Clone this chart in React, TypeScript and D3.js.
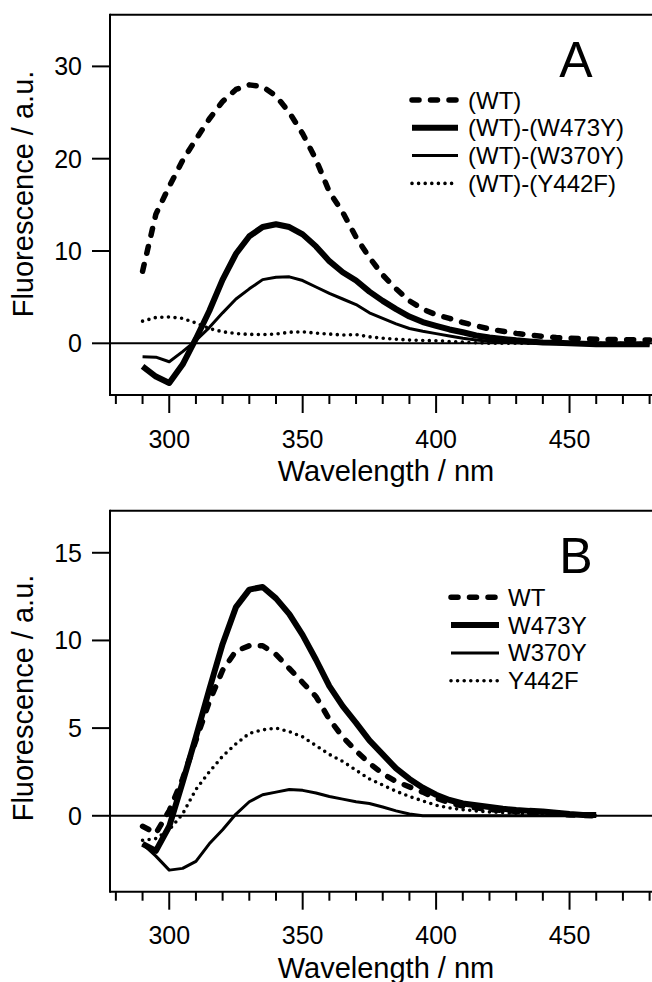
import React from "react";
import * as d3 from "d3";

const WL_A = [290,295,300,305,310,315,320,325,330,335,340,345,350,355,360,365,370,375,380,385,390,395,400,405,410,415,420,425,430,435,440,445,450,455,460,465,470,475,480];
const A_WT = [7.8,14.0,17.0,19.8,22.1,24.3,26.2,27.5,28.0,27.8,26.8,25.0,22.7,19.9,16.4,14.2,11.5,9.3,7.4,5.9,4.6,3.7,3.1,2.7,2.25,1.9,1.55,1.3,1.08,0.9,0.75,0.62,0.55,0.5,0.45,0.42,0.4,0.38,0.36];
const A_W473Y = [-2.5,-3.6,-4.3,-2.3,0.5,3.5,6.9,9.7,11.6,12.6,12.9,12.6,11.8,10.5,8.9,7.7,6.8,5.6,4.6,3.7,2.9,2.3,1.9,1.5,1.2,0.85,0.62,0.48,0.32,0.2,0.1,0.05,0.0,-0.05,-0.1,-0.1,-0.1,-0.1,-0.1];
const A_W370Y = [-1.45,-1.5,-2.0,-0.9,0.3,1.7,3.3,4.8,5.9,6.9,7.15,7.2,6.8,6.1,5.4,4.8,4.2,3.3,2.7,2.1,1.6,1.3,1.05,0.8,0.55,0.35,0.22,0.12,0.05,0.0,0.0,-0.05,-0.1,-0.1,-0.1,-0.1,-0.1,-0.1,-0.1];
const A_Y442F = [2.4,2.8,2.85,2.7,2.2,1.6,1.25,1.05,0.97,0.95,1.0,1.2,1.25,1.1,1.0,0.9,0.95,0.7,0.55,0.45,0.35,0.3,0.28,0.2,0.12,0.05,0.0,0.0,0.0,0.0,0.0,0.0,0.0,0.0,0.0,0.0,0.0,0.0,0.0];

const WL_B = [290,295,300,305,310,315,320,325,330,335,340,345,350,355,360,365,370,375,380,385,390,395,400,405,410,415,420,425,430,435,440,445,450,455,460];
const B_WT = [-0.6,-1.0,0.3,2.1,4.3,6.5,8.3,9.4,9.7,9.7,9.2,8.4,7.6,6.8,5.5,4.5,3.7,3.0,2.4,1.95,1.65,1.35,1.0,0.75,0.55,0.45,0.35,0.3,0.25,0.2,0.15,0.1,0.05,0.02,0.0];
const B_W473Y = [-1.6,-2.0,-0.6,1.9,4.5,7.2,9.8,11.9,12.9,13.05,12.4,11.5,10.3,8.9,7.4,6.25,5.3,4.3,3.5,2.7,2.1,1.6,1.2,0.9,0.7,0.6,0.5,0.4,0.33,0.28,0.25,0.18,0.1,0.05,0.05];
const B_W370Y = [-1.6,-2.3,-3.1,-3.0,-2.6,-1.6,-0.8,0.1,0.8,1.2,1.35,1.5,1.45,1.3,1.1,0.95,0.8,0.7,0.5,0.28,0.1,0.0,0.0,0.0,0.0,0.0,0.0,0.0,0.0,0.0,0.0,0.0,0.0,0.0,0.0];
const B_Y442F = [-1.4,-1.3,-0.8,0.1,1.5,2.5,3.4,4.1,4.7,4.9,5.0,4.8,4.5,4.0,3.5,3.1,2.6,2.1,1.75,1.4,1.1,0.85,0.6,0.45,0.35,0.28,0.22,0.18,0.15,0.12,0.1,0.08,0.05,0.03,0.02];

const LEGEND_A = ["(WT)", "(WT)-(W473Y)", "(WT)-(W370Y)", "(WT)-(Y442F)"];
const LEGEND_B = ["WT", "W473Y", "W370Y", "Y442F"];
const X_MAJOR = [300, 350, 400, 450];
const X_MINOR = [280,290,310,320,330,340,360,370,380,390,410,420,430,440,460,470,480];
const Y_TICKS_A = [0, 10, 20, 30];
const Y_TICKS_B = [0, 5, 10, 15];

const FONT = "'Liberation Sans', Arial, Helvetica, sans-serif";

const STYLES = [
  { width: 5.5, dash: "7,11.5", cap: "round" },
  { width: 6, dash: null, cap: "butt" },
  { width: 3, dash: null, cap: "butt" },
  { width: 3.6, dash: "0,6.6", cap: "round" },
];

type PanelProps = {
  top: number; bottom: number; yDomain: [number, number]; yTicks: number[];
  wl: number[]; series: number[][]; legend: string[]; letter: string;
  legX0: number; legX1: number; legTextX: number; legY0: number;
  labelCenterY: number;
};

function Panel(p: PanelProps) {
  const left = 110, right = 652;
  const x = d3.scaleLinear().domain([277.8, 480.9]).range([left, right]);
  const y = d3.scaleLinear().domain(p.yDomain).range([p.bottom, p.top]);
  const order = [3, 2, 1, 0];
  return (
    <g>
      <line x1={left} x2={right} y1={y(0)} y2={y(0)} stroke="#000" strokeWidth={2} />
      {order.map((si) => {
        const st = STYLES[si];
        const pts = p.wl.map((w, i) => [w, p.series[si][i]] as [number, number]);
        const line = d3.line<[number, number]>().x((d) => x(d[0])).y((d) => y(d[1]));
        return (
          <path key={si} d={line(pts) || ""} fill="none" stroke="#000" strokeWidth={st.width}
            strokeDasharray={st.dash || undefined} strokeLinecap={st.cap as any} strokeLinejoin="round" />
        );
      })}
      <line x1={left} x2={right} y1={p.top} y2={p.top} stroke="#000" strokeWidth={2} />
      <line x1={left} x2={right} y1={p.bottom} y2={p.bottom} stroke="#000" strokeWidth={2} />
      <line x1={left} x2={left} y1={p.top - 1} y2={p.bottom + 1} stroke="#000" strokeWidth={2} />
      {X_MINOR.map((t) => (
        <line key={"m" + t} x1={x(t)} x2={x(t)} y1={p.bottom} y2={p.bottom + 9} stroke="#000" strokeWidth={2} />
      ))}
      {X_MAJOR.map((t) => (
        <g key={"M" + t}>
          <line x1={x(t)} x2={x(t)} y1={p.bottom} y2={p.bottom + 18} stroke="#000" strokeWidth={2} />
          <text x={x(t)} y={p.bottom + 52.7} textAnchor="middle" fontFamily={FONT} fontSize={25}>{t}</text>
        </g>
      ))}
      <text x={386} y={p.bottom + 86} textAnchor="middle" fontFamily={FONT} fontSize={29}>Wavelength / nm</text>
      {p.yTicks.map((t) => (
        <g key={"y" + t}>
          <line x1={left - 18} x2={left} y1={y(t)} y2={y(t)} stroke="#000" strokeWidth={2} />
          <text x={82} y={y(t) + 9} textAnchor="end" fontFamily={FONT} fontSize={25}>{t}</text>
        </g>
      ))}
      <text transform={`translate(33,${p.labelCenterY}) rotate(-90)`} textAnchor="middle" fontFamily={FONT} fontSize={29}>Fluorescence / a.u.</text>
      <text x={576} y={p.top + 62.6} textAnchor="middle" fontFamily={FONT} fontSize={50}>{p.letter}</text>
      {p.legend.map((lab, i) => {
        const st = STYLES[i];
        const ly = p.legY0 + i * 27.8;
        return (
          <g key={lab}>
            <line x1={p.legX0} x2={p.legX1} y1={ly} y2={ly} stroke="#000" strokeWidth={st.width}
              strokeDasharray={st.dash || undefined} strokeLinecap={st.cap as any} />
            <text x={p.legTextX} y={ly + 8.5} fontFamily={FONT} fontSize={24}>{lab}</text>
          </g>
        );
      })}
    </g>
  );
}

export default function App() {
  return (
    <svg width={652} height={982} style={{ position: "absolute", left: 0, top: 0, background: "#fff" }}>
      <rect x={0} y={0} width={652} height={982} fill="#fff" />
      <Panel top={14.7} bottom={395} yDomain={[-5.6, 35.6]} yTicks={Y_TICKS_A} wl={WL_A}
        series={[A_WT, A_W473Y, A_W370Y, A_Y442F]} legend={LEGEND_A} letter="A"
        legX0={412} legX1={458} legTextX={468} legY0={100} labelCenterY={194} />
      <Panel top={510.7} bottom={891.7} yDomain={[-4.33, 17.4]} yTicks={Y_TICKS_B} wl={WL_B}
        series={[B_WT, B_W473Y, B_W370Y, B_Y442F]} legend={LEGEND_B} letter="B"
        legX0={451} legX1={499} legTextX={508} legY0={597.3} labelCenterY={698} />
    </svg>
  );
}
